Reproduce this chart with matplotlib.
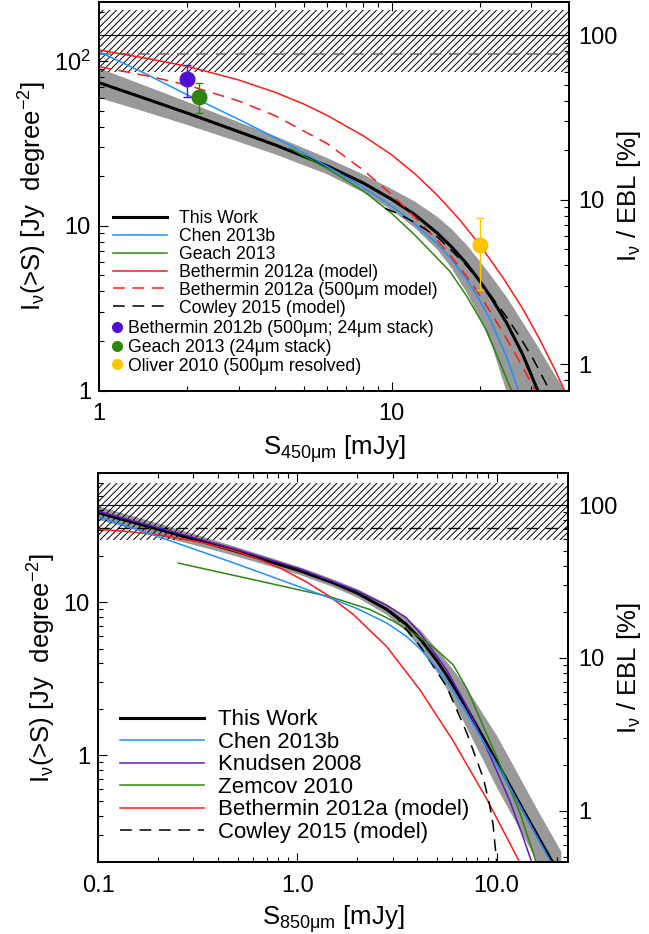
import numpy as np
import matplotlib
matplotlib.use("Agg")
import matplotlib.pyplot as plt
from matplotlib.lines import Line2D
from matplotlib.ticker import LogLocator, NullFormatter

plt.rcParams['font.family'] = ['Liberation Sans', 'DejaVu Sans']
plt.rcParams['mathtext.fontset'] = 'custom'
plt.rcParams['mathtext.rm'] = 'Liberation Sans'
plt.rcParams['mathtext.it'] = 'Liberation Sans'
plt.rcParams['mathtext.default'] = 'regular'
plt.rcParams['hatch.linewidth'] = 0.7
plt.rcParams['lines.scale_dashes'] = False

### 450um panel
s450_this = [1, 1.4, 2, 3, 4, 6, 8, 10, 12, 14.3, 16, 18, 20, 22, 24.7, 28, 31.3, 36, 40]
i450_this = [74, 60.3, 48.4, 37.3, 31.0, 23.2, 18.2, 14.5, 11.7, 9.06, 7.48, 5.92, 4.63, 3.62, 2.58, 1.67, 1.04, 0.6, 0.42]
i450_lo = [60.1, 50.2, 41.2, 32.5, 27.3, 20.7, 16.0, 12.5, 9.73, 7.2, 5.54, 3.95, 2.75, 1.85, 0.97, 0.52, 0.3, 0.17, 0.12]
i450_hi = [91, 72.5, 56.9, 42.8, 35.2, 26.0, 20.6, 16.8, 14.1, 11.4, 9.6, 7.7, 6.1, 4.9, 3.7, 2.6, 1.9, 1.25, 0.95]

s450_chen = [1, 1.4, 2, 2.2, 3.15, 4.5, 6.15, 8, 10, 12, 14.3, 16, 18, 20, 21.7, 24.7, 26.7, 28]
i450_chen = [114, 86, 62.5, 57.8, 42.5, 30.8, 22.5, 17.1, 13.2, 10.3, 7.81, 6.28, 4.76, 3.54, 2.71, 1.61, 1.09, 0.84]

s450_geach = [4.5, 6.15, 8, 10, 12, 15.8, 18.05, 21.1, 25.7, 27]
i450_geach = [29.5, 21.8, 16.3, 11.9, 8.8, 5.3, 3.75, 2.32, 1.0, 0.81]

s450_beth = [1, 1.5, 2, 3, 4, 5, 6, 8, 10, 12, 14.3, 17, 20, 24, 28, 32, 36, 40]
i450_beth = [117, 103, 93.1, 76.9, 64.7, 55.0, 47.0, 35.2, 27.0, 20.7, 15.4, 11.0, 7.67, 4.86, 3.16, 2.06, 1.36, 0.91]

s450_beth500 = [1, 1.5, 2, 3, 4, 6, 8, 10, 12, 14.3, 16, 18, 20, 22, 24.7, 28, 30.5, 34]
i450_beth500 = [92.6, 80.7, 71.6, 57.3, 46.6, 31.7, 21.8, 15.5, 11.3, 8.19, 6.5, 4.96, 3.79, 2.92, 2.07, 1.40, 1.05, 0.72]

s450_cowley = [9.5, 10.7, 12.2, 14.4, 16, 18, 20, 22, 24.7, 27.5, 30.5, 34.7, 38]
i450_cowley = [12.8, 11.7, 10.3, 8.5, 7.1, 5.75, 4.6, 3.7, 2.8, 2.1, 1.55, 1.0, 0.72]

# stacking / resolved points: S, I, lower, upper
pt450_beth12b = [2.0, 78, 60.9, 95.5]
pt450_geach = [2.2, 60.9, 48.7, 73.3]
pt450_oliver = [20.0, 7.6, 4.06, 11.1]

ebl450 = 144.0
ebl450_alt = 110.6
ebl450_range = [86.0, 205.0]

### 850um panel
s850_this = [0.1, 0.15, 0.22, 0.33, 0.476, 0.7, 1.03, 1.5, 2.0, 2.8, 3.5, 4.13, 5.0, 5.61, 6.3, 7.07, 8.5, 10, 13.1, 16, 19.5, 21]
i850_this = [38.6, 33.4, 29.1, 25.1, 21.9, 18.8, 16.1, 13.5, 11.5, 9.04, 7.23, 5.78, 4.18, 3.34, 2.62, 2.04, 1.33, 0.91, 0.48, 0.30, 0.19, 0.16]
i850_lo = [34.8, 30.4, 26.5, 23.2, 20.4, 17.6, 15.2, 12.7, 10.8, 8.34, 6.5, 5.03, 3.52, 2.71, 2.03, 1.51, 0.94, 0.615, 0.325, 0.20, 0.128, 0.108]
i850_hi = [42.8, 36.8, 31.9, 27.2, 23.5, 20.1, 17.1, 14.3, 12.3, 9.8, 8.0, 6.64, 4.96, 4.11, 3.38, 2.75, 1.88, 1.35, 0.71, 0.44, 0.28, 0.236]

s850_chen = [0.1, 0.22, 0.476, 1.0, 1.456, 2.0, 2.8, 3.5, 4.13, 5.0, 5.61, 7.07, 10, 13.1, 18.9, 20]
i850_chen = [36.4, 25.8, 18.2, 12.8, 10.7, 9.1, 7.35, 6.05, 4.97, 3.73, 3.08, 1.89, 0.88, 0.47, 0.196, 0.175]

s850_knud = [0.1, 0.22, 0.476, 1.03, 2.0, 2.8, 3.5, 4.13, 5.6, 7.07, 9.25, 11.67, 13.6, 15.0, 15.5]
i850_knud = [39.5, 29.8, 22.6, 16.6, 11.9, 9.6, 8.0, 6.3, 3.64, 2.1, 1.0, 0.5, 0.29, 0.2, 0.177]

s850_zem = [0.252, 0.6, 1.456, 2.31, 3.0, 4.13, 5.0, 6.06, 7.07, 7.94, 8.94, 10, 13.1, 15.8, 16.5]
i850_zem = [18.1, 14.1, 10.9, 9.0, 7.6, 5.9, 4.9, 3.9, 2.75, 1.95, 1.36, 0.98, 0.42, 0.2, 0.168]

s850_beth = [0.1, 0.15, 0.22, 0.33, 0.476, 0.65, 0.817, 1.1, 1.456, 1.9, 2.8, 4.13, 6.06, 8.94, 13.1, 14]
i850_beth = [30.1, 28.9, 27.2, 24.7, 21.9, 19.0, 16.8, 13.7, 10.9, 8.38, 5.16, 2.67, 1.24, 0.515, 0.198, 0.17]

s850_cowley = [3.0, 4.13, 5.6, 7.07, 8.6, 9.2, 9.6, 10.0, 10.2]
i850_cowley = [8.6, 5.17, 2.83, 1.41, 0.70, 0.48, 0.35, 0.2, 0.15]

ebl850 = 43.4
ebl850_alt = 30.9
ebl850_range = [25.7, 60.5]

BLUE = '#1E90FF'
GREEN = '#2E8510'
RED = '#FF1A1A'
PURPLE = '#6418C0'
MARK_PURPLE = '#5010D0'
GOLD = '#FFC400'
BAND = '#999999'
DASH = (8.5, 5.5)
HATCH = '/////'

fig = plt.figure(figsize=(6.49, 9.34), dpi=100)
ax1 = fig.add_axes([0.153, 0.5819, 0.7237, 0.4163])
ax2 = fig.add_axes([0.1515, 0.0768, 0.7242, 0.4165])


def style_axes(ax, axr, xticks, xlabels, yticks, ylabels, rticks, rlabels):
    ax.set_xscale('log')
    ax.set_yscale('log')
    axr.set_yscale('log')
    ax.set_xticks(xticks, xlabels)
    ax.set_yticks(yticks, ylabels)
    axr.set_yticks(rticks, rlabels)
    for a in (ax, axr):
        a.xaxis.set_minor_locator(LogLocator(base=10, subs=np.arange(2, 10)))
        a.yaxis.set_minor_locator(LogLocator(base=10, subs=np.arange(2, 10)))
        a.xaxis.set_minor_formatter(NullFormatter())
        a.yaxis.set_minor_formatter(NullFormatter())
        for sp in a.spines.values():
            sp.set_linewidth(1.3)
    ax.tick_params(which='both', direction='in', top=True, right=False,
                   labelsize=17, width=0.8)
    ax.tick_params(which='major', length=6.5)
    ax.tick_params(which='minor', length=3.6)
    ax.tick_params(axis='x', pad=9)
    ax.tick_params(axis='y', pad=6)
    axr.tick_params(which='both', direction='in', labelsize=17, width=0.8, pad=7)
    axr.tick_params(which='major', length=6.5)
    axr.tick_params(which='minor', length=3.6)


# ---------------- top panel ----------------
ax1.set_xlim(1, 40.4)
ax1.set_ylim(1, 230)
ax1.fill_between(s450_this, i450_lo, i450_hi, color=BAND, lw=0, zorder=1)
ax1.fill_between(ax1.get_xlim(), ebl450_range[0], ebl450_range[1], facecolor='none',
                 edgecolor='black', hatch=HATCH, lw=0, zorder=2)
ax1.axhline(ebl450, color='black', lw=0.8, zorder=2)
ax1.axhline(ebl450_alt, color='#707070', lw=1.2, dashes=DASH, zorder=2)

ax1.plot(s450_this, i450_this, color='black', lw=2.2, zorder=3, label='This Work')
ax1.plot(s450_chen, i450_chen, color=BLUE, lw=1.1, zorder=4, label='Chen 2013b')
ax1.plot(s450_geach, i450_geach, color=GREEN, lw=1.1, zorder=4, label='Geach 2013')
ax1.plot(s450_beth, i450_beth, color=RED, lw=1.1, zorder=4, label='Bethermin 2012a (model)')
ax1.plot(s450_beth500, i450_beth500, color=RED, lw=1.1, dashes=DASH, zorder=4,
         label='Bethermin 2012a (500μm model)')
ax1.plot(s450_cowley, i450_cowley, color='black', lw=1.1, dashes=DASH, zorder=4,
         label='Cowley 2015 (model)')

for pt, col in [(pt450_beth12b, MARK_PURPLE), (pt450_geach, GREEN), (pt450_oliver, GOLD)]:
    ax1.errorbar([pt[0]], [pt[1]], yerr=[[pt[1] - pt[2]], [pt[3] - pt[1]]], fmt='o',
                 ms=10.5, color=col, ecolor=col, elinewidth=1.0, capsize=3, capthick=1.0,
                 zorder=6)

ax1r = ax1.twinx()
style_axes(ax1, ax1r, [1, 10], ['1', '10'], [1, 10, 100], ['1', '10', '$10^2$'],
           [1, 10, 100], ['1', '10', '100'])
ax1.set_xlim(1, 40.4)
ax1.set_ylim(1, 230)
ax1r.set_ylim(np.array(ax1.get_ylim()) / ebl450 * 100)

ax1.set_xlabel('S$_{450μm}$ [mJy]', fontsize=18.5, labelpad=6)
ax1.set_ylabel('I$_ν$(>S) [Jy  degree$^{-2}$]', fontsize=18.5, labelpad=4)
ax1r.set_ylabel('I$_ν$ / EBL [%]', fontsize=18.5, labelpad=-2)

leg1 = ax1.legend(loc='upper left', bbox_to_anchor=(0.0298, 0.464), frameon=False,
                  fontsize=12.7, handlelength=3.03, handletextpad=0.7, borderpad=0,
                  borderaxespad=0, labelspacing=0.05)
ax1.add_artist(leg1)
mark_handles = [Line2D([], [], ls='none', marker='o', ms=7, color=MARK_PURPLE),
                Line2D([], [], ls='none', marker='o', ms=7, color=GREEN),
                Line2D([], [], ls='none', marker='o', ms=7, color=GOLD)]
mark_labels = ['Bethermin 2012b (500μm; 24μm stack)', 'Geach 2013 (24μm stack)',
               'Oliver 2010 (500μm resolved)']
ax1.legend(mark_handles, mark_labels, loc='upper left', bbox_to_anchor=(0.0264, 0.181),
           frameon=False, fontsize=12.7, handlelength=0.57, handletextpad=0.37,
           borderpad=0, borderaxespad=0, labelspacing=0.10)

# ---------------- bottom panel ----------------
ax2.set_xlim(0.1, 22.9)
ax2.set_ylim(0.2, 70)
ax2.fill_between(s850_this, i850_lo, i850_hi, color=BAND, lw=0, zorder=1)
ax2.fill_between(ax2.get_xlim(), ebl850_range[0], ebl850_range[1], facecolor='none',
                 edgecolor='black', hatch=HATCH, lw=0, zorder=2)
ax2.axhline(ebl850, color='black', lw=0.8, zorder=2)
ax2.axhline(ebl850_alt, color='black', lw=1.0, dashes=DASH, zorder=2)

ax2.plot(s850_this, i850_this, color='black', lw=2.2, zorder=3, label='This Work')
ax2.plot(s850_chen, i850_chen, color=BLUE, lw=1.1, zorder=5, label='Chen 2013b')
ax2.plot(s850_knud, i850_knud, color=PURPLE, lw=1.1, zorder=4, label='Knudsen 2008')
ax2.plot(s850_zem, i850_zem, color=GREEN, lw=1.1, zorder=4, label='Zemcov 2010')
ax2.plot(s850_beth, i850_beth, color=RED, lw=1.1, zorder=4, label='Bethermin 2012a (model)')
ax2.plot(s850_cowley, i850_cowley, color='black', lw=1.1, dashes=DASH, zorder=4,
         label='Cowley 2015 (model)')

ax2r = ax2.twinx()
style_axes(ax2, ax2r, [0.1, 1, 10], ['0.1', '1.0', '10.0'], [1, 10], ['1', '10'],
           [1, 10, 100], ['1', '10', '100'])
ax2.set_xlim(0.1, 22.9)
ax2.set_ylim(0.2, 70)
ax2r.set_ylim(np.array(ax2.get_ylim()) / ebl850 * 100)

ax2.set_xlabel('S$_{850μm}$ [mJy]', fontsize=18.5, labelpad=5)
ax2.set_ylabel('I$_ν$(>S) [Jy  degree$^{-2}$]', fontsize=18.5, labelpad=4)
ax2r.set_ylabel('I$_ν$ / EBL [%]', fontsize=18.5, labelpad=-2)

ax2.legend(loc='upper left', bbox_to_anchor=(0.046, 0.393), frameon=False,
           fontsize=16, handlelength=3.78, handletextpad=0.64, borderpad=0,
           borderaxespad=0, labelspacing=0.068)

fig.savefig('out.png', dpi=100)
